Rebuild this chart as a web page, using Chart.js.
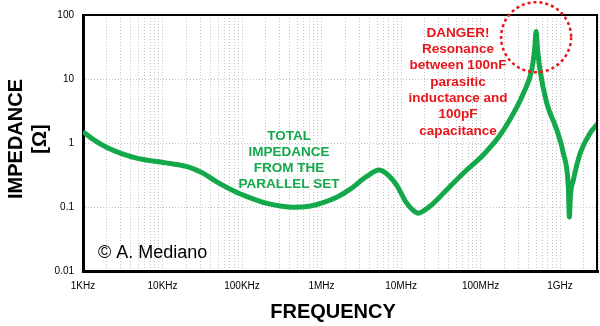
<!DOCTYPE html>
<html>
<head>
<meta charset="utf-8">
<script src="https://cdn.jsdelivr.net/npm/chart.js@4"></script>
<style>
html,body{margin:0;padding:0;background:#fff;}
#wrap{width:600px;height:326px;position:relative;}
</style>
</head>
<body>
<div id="wrap"><canvas id="c" width="600" height="326"></canvas></div>
<script>
// ---- data ----
const freqHz = [1e3,1.4e3,2e3,3e3,5e3,8e3,12e3,20e3,32e3,50e3,85e3,140e3,200e3,300e3,450e3,700e3,
  1e6,1.6e6,2.3e6,3.7e6,5.3e6,7e6,8.8e6,11.5e6,14e6,16.5e6,20e6,25.5e6,41e6,67e6,108e6,176e6,259e6,346e6,440e6,480e6,500e6,
  520e6,560e6,680e6,910e6,1.1e9,1.27e9,1.31e9,1.35e9,1.47e9,1.79e9,2.38e9,3e9];
const impedanceOhm = [1.5,1.1,0.85,0.69,0.57,0.52,0.48,0.43,0.34,0.24,0.17,0.133,0.115,0.104,0.099,0.103,
  0.115,0.145,0.19,0.3,0.38,0.31,0.22,0.12,0.09,0.08,0.09,0.114,0.208,0.378,0.65,1.33,2.9,6,13.8,30,55,
  30,13.8,4.2,1.6,0.69,0.208,0.07,0.15,0.264,0.69,1.42,2.03];
const xTickValues = [1e3,1e4,1e5,1e6,1e7,1e8,1e9];
const xTickLabels = ['1KHz','10KHz','100KHz','1MHz','10MHz','100MHz','1GHz'];
const yTickValues = [0.01,0.1,1,10,100];
const yTickLabels = ['0.01','0.1','1','10','100'];
const xMin = 1e3, xMax = 3e9;
const noteLines = ['DANGER!','Resonance','between 100nF','parasitic','inductance and','100pF','capacitance'];
const curveLines = ['TOTAL','IMPEDANCE','FROM THE','PARALLEL SET'];
const resonanceF = 500e6, resonanceZ = 45;
const copyright = '\u00A9 A. Mediano';

const FONT = '"Liberation Sans", Arial, sans-serif';
const GREEN = '#13a84a', RED = '#e8151b';

// minor grid positions
const xGridValues = [];
for (let d = 3; d <= 9; d++) for (let m = 1; m <= 9; m++) { const v = m * Math.pow(10, d); if (v >= xMin && v <= xMax) xGridValues.push(v); }

const pts = freqHz.map((f, i) => ({x: f, y: impedanceOhm[i]}));

const deco = {
  id: 'deco',
  afterDraw(chart) {
    const ctx = chart.ctx, a = chart.chartArea, xs = chart.scales.x, ys = chart.scales.y;
    ctx.save();
    // top & right frame
    ctx.strokeStyle = '#000'; ctx.lineWidth = 2;
    ctx.beginPath(); ctx.moveTo(a.left, a.top); ctx.lineTo(a.right - 1, a.top); ctx.lineTo(a.right - 1, a.bottom); ctx.stroke();
    // red dashed circle
    const cx = xs.getPixelForValue(resonanceF), cy = ys.getPixelForValue(resonanceZ);
    ctx.strokeStyle = RED; ctx.lineWidth = 2.5; ctx.setLineDash([3, 3]);
    ctx.beginPath(); ctx.arc(cx, cy, 35, 0, Math.PI * 2); ctx.stroke();
    ctx.setLineDash([]);
    // red note
    ctx.fillStyle = RED; ctx.font = 'bold 13.5px ' + FONT; ctx.textAlign = 'center'; ctx.textBaseline = 'middle';
    noteLines.forEach((t, i) => ctx.fillText(t, 458, 33 + i * 16.3));
    // green note
    ctx.fillStyle = GREEN;
    curveLines.forEach((t, i) => ctx.fillText(t, 289, 136 + i * 16));
    // copyright
    ctx.fillStyle = '#000'; ctx.font = '18px ' + FONT; ctx.textAlign = 'left';
    ctx.fillText(copyright, 98, 253);
    // axis titles
    ctx.font = 'bold 20px ' + FONT; ctx.textAlign = 'center';
    ctx.fillText('FREQUENCY', 333, 312);
    ctx.save(); ctx.translate(16, 139); ctx.rotate(-Math.PI / 2);
    ctx.fillText('IMPEDANCE', 0, 0); ctx.restore();
    ctx.save(); ctx.translate(40, 139); ctx.rotate(-Math.PI / 2);
    ctx.fillText('[\u03A9]', 0, 0); ctx.restore();
    ctx.restore();
  }
};

new Chart(document.getElementById('c'), {
  type: 'line',
  data: { datasets: [{ data: pts, borderColor: GREEN, borderWidth: 5, pointRadius: 0, cubicInterpolationMode: 'monotone', fill: false }] },
  options: {
    responsive: false, animation: false, events: [],
    layout: { padding: { top: 15, right: 2, left: 0, bottom: 0 } },
    plugins: { legend: { display: false }, tooltip: { enabled: false } },
    scales: {
      x: {
        type: 'logarithmic', min: xMin, max: xMax,
        afterFit(s) { s.height = 55; s.paddingLeft = 0; s.paddingRight = 0; },
        afterBuildTicks(s) { s.ticks = xGridValues.map(v => ({ value: v })); },
        ticks: {
          autoSkip: false, maxRotation: 0, padding: 9, color: '#000', font: { family: FONT, size: 10 },
          callback(v) { const i = xTickValues.findIndex(t => Math.abs(t - v) / t < 1e-6); return i >= 0 ? xTickLabels[i] : ''; }
        },
        grid: { color: '#c4c4c4', lineWidth: 1, drawTicks: false },
        border: { color: '#000', width: 3, dash: [1, 2] }
      },
      y: {
        type: 'logarithmic', min: 0.01, max: 100,
        afterFit(s) { s.width = 83; s.paddingTop = 0; s.paddingBottom = 0; },
        afterBuildTicks(s) { s.ticks = yTickValues.map(v => ({ value: v })); },
        ticks: {
          autoSkip: false, padding: 9, color: '#000', font: { family: FONT, size: 10 },
          callback(v) { const i = yTickValues.findIndex(t => Math.abs(t - v) / t < 1e-6); return i >= 0 ? yTickLabels[i] : ''; }
        },
        grid: { color: '#c4c4c4', lineWidth: 1, drawTicks: false },
        border: { color: '#000', width: 3, dash: [1, 2] }
      }
    }
  },
  plugins: [deco]
});
</script>
</body>
</html>
